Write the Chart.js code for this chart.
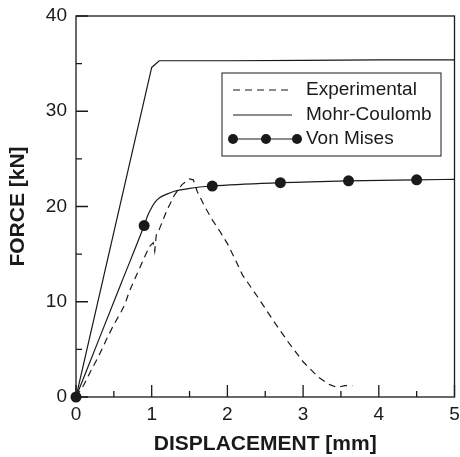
<!DOCTYPE html>
<html>
<head>
<meta charset="utf-8">
<script src="https://cdn.jsdelivr.net/npm/chart.js@4.4.1/dist/chart.umd.min.js"></script>
<style>
  html, body { margin: 0; padding: 0; background: #fff; }
  #wrap { width: 460px; height: 457px; }
</style>
</head>
<body>
<div id="wrap"><canvas id="c" width="460" height="457"></canvas></div>
<script>
// displacement [mm] / force [kN]
const expX = [0, 0.1, 0.2, 0.3, 0.4, 0.5, 0.6, 0.65, 0.7, 0.8, 0.9, 0.97, 1.02, 1.04, 1.06, 1.1, 1.2, 1.3, 1.4, 1.5, 1.55, 1.6, 1.7, 1.8, 1.9, 2.0, 2.1, 2.2, 2.4, 2.6, 2.8, 3.0, 3.2, 3.35, 3.45, 3.55, 3.65];
const expY = [0, 1.2, 2.8, 4.3, 6.0, 7.6, 9.0, 9.8, 11.0, 12.8, 14.6, 15.8, 16.2, 15.3, 17.0, 17.6, 19.6, 21.2, 22.3, 22.9, 22.8, 21.6, 20.0, 18.6, 17.4, 16.1, 14.5, 12.8, 10.5, 8.1, 5.8, 3.7, 2.1, 1.3, 1.0, 1.2, 1.2];

const mcX = [0, 1.0, 1.1, 2.0, 3.0, 4.0, 5.0];
const mcY = [0, 34.6, 35.3, 35.3, 35.35, 35.4, 35.4];

const vmX = [0, 0.3, 0.6, 0.9, 0.95, 1.0, 1.05, 1.1, 1.2, 1.3, 1.5, 1.8, 2.7, 3.6, 4.5, 5.0];
const vmY = [0, 6, 12, 18, 19.1, 19.9, 20.5, 20.9, 21.3, 21.6, 21.9, 22.15, 22.5, 22.7, 22.8, 22.85];
const vmMarks = [0, 0.9, 1.8, 2.7, 3.6, 4.5];

const xTicks = [0, 1, 2, 3, 4, 5];
const yTicks = [0, 10, 20, 30, 40];

const ink = '#1a1a1a';
const fam = '"Liberation Sans", Arial, sans-serif';
const pts = (xs, ys) => xs.map((x, i) => ({ x: x, y: ys[i] }));

/* cadre + graduations vers l'intérieur, et la légende */
const frame = {
  id: 'frame',
  afterDraw(chart) {
    const ctx = chart.ctx, a = chart.chartArea;
    const sx = chart.scales.x, sy = chart.scales.y;
    ctx.save();
    ctx.strokeStyle = ink;
    ctx.lineWidth = 1.3;
    ctx.strokeRect(a.left, a.top, a.right - a.left, a.bottom - a.top);
    ctx.beginPath();
    for (let v = 0; v <= 5; v += 0.5) {
      const px = sx.getPixelForValue(v);
      const len = Number.isInteger(v) ? 12 : 6;
      ctx.moveTo(px, a.bottom);
      ctx.lineTo(px, a.bottom - len);
    }
    for (let v = 0; v <= 40; v += 5) {
      const py = sy.getPixelForValue(v);
      const len = v % 10 == 0 ? 12 : 6;
      ctx.moveTo(a.left, py);
      ctx.lineTo(a.left + len, py);
    }
    ctx.stroke();

    // légende
    const bx = 222, by = 73, bw = 219, bh = 83;
    ctx.lineWidth = 1;
    ctx.strokeRect(bx, by, bw, bh);
    ctx.fillStyle = ink;
    ctx.font = '19px ' + fam;
    ctx.textBaseline = 'middle';
    const rows = [90, 115, 139];
    const names = chart.data.datasets.map(d => d.label);
    names.forEach((n, i) => ctx.fillText(n, 306, rows[i]));
    ctx.lineWidth = 1.2;
    ctx.setLineDash([7, 5]);
    ctx.beginPath(); ctx.moveTo(233, rows[0]); ctx.lineTo(292, rows[0]); ctx.stroke();
    ctx.setLineDash([]);
    ctx.beginPath(); ctx.moveTo(233, rows[1]); ctx.lineTo(292, rows[1]); ctx.stroke();
    ctx.beginPath(); ctx.moveTo(233, rows[2]); ctx.lineTo(297, rows[2]); ctx.stroke();
    [233, 266, 297].forEach(px => {
      ctx.beginPath(); ctx.arc(px, rows[2], 5, 0, Math.PI * 2); ctx.fill();
    });
    ctx.restore();
  }
};

new Chart(document.getElementById('c'), {
  type: 'scatter',
  data: {
    datasets: [
      {
        label: 'Experimental',
        data: pts(expX, expY),
        showLine: true,
        borderColor: ink,
        borderWidth: 1.2,
        borderDash: [7, 5],
        pointRadius: 0,
        tension: 0
      },
      {
        label: 'Mohr-Coulomb',
        data: pts(mcX, mcY),
        showLine: true,
        borderColor: ink,
        borderWidth: 1.2,
        pointRadius: 0,
        tension: 0
      },
      {
        label: 'Von Mises',
        data: pts(vmX, vmY),
        showLine: true,
        clip: false,
        borderColor: ink,
        backgroundColor: ink,
        borderWidth: 1.2,
        pointRadius: vmX.map(x => vmMarks.includes(x) ? 5.5 : 0),
        pointBorderWidth: 0,
        cubicInterpolationMode: 'monotone'
      }
    ]
  },
  options: {
    responsive: false,
    animation: false,
    events: [],
    layout: { padding: { top: 16, right: 4, left: 0, bottom: 0 } },
    plugins: { legend: { display: false }, tooltip: { enabled: false } },
    scales: {
      x: {
        type: 'linear',
        min: 0, max: 5,
        afterBuildTicks: s => { s.ticks = xTicks.map(v => ({ value: v })); },
        afterFit: s => { s.height = 60; s.paddingLeft = 0; s.paddingRight = 0; },
        grid: { display: false, drawTicks: false },
        border: { display: false },
        ticks: { color: ink, padding: 6, maxRotation: 0, font: { size: 19, family: fam } },
        title: {
          display: true,
          text: 'DISPLACEMENT [mm]',
          color: ink,
          padding: { top: 1, bottom: 0 },
          font: { size: 21, weight: 'bold', family: fam }
        }
      },
      y: {
        type: 'linear',
        min: 0, max: 40,
        afterBuildTicks: s => { s.ticks = yTicks.map(v => ({ value: v })); },
        afterFit: s => { s.width = 76; s.paddingTop = 0; s.paddingBottom = 0; },
        grid: { display: false, drawTicks: false },
        border: { display: false },
        ticks: { color: ink, padding: 9, font: { size: 19, family: fam } },
        title: {
          display: true,
          text: 'FORCE [kN]',
          color: ink,
          padding: { top: 6, bottom: 0 },
          font: { size: 21, weight: 'bold', family: fam }
        }
      }
    }
  },
  plugins: [frame]
});
</script>
</body>
</html>
